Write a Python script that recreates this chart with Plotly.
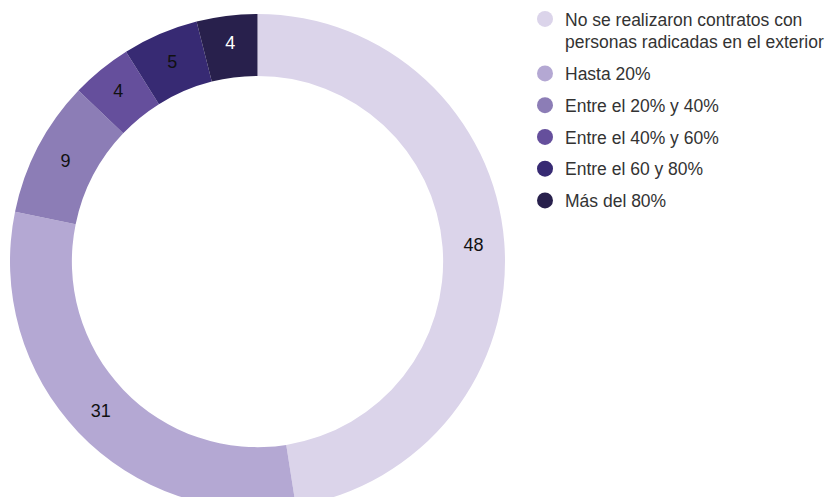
import plotly.graph_objects as go

categories = [
    "No se realizaron contratos con<br>personas radicadas en el exterior",
    "Hasta 20%",
    "Entre el 20% y 40%",
    "Entre el 40% y 60%",
    "Entre el 60 y 80%",
    "Más del 80%",
]
values = [48, 31, 9, 4, 5, 4]
colors = ["#dbd4ea", "#b4a8d3", "#8c7db6", "#654f9c", "#372a73", "#28204c"]
text_colors = ["#111111", "#111111", "#111111", "#111111", "#111111", "#ffffff"]

# figure is slightly larger than the 830x497 viewport; the overflow is blank / clipped
W, H = 850, 512

fig = go.Figure()
fig.add_trace(go.Pie(
    labels=categories,
    values=values,
    marker=dict(colors=colors, line=dict(width=0)),
    hole=0.75,
    sort=False,
    direction="clockwise",
    rotation=0,
    textinfo="value",
    textposition="inside",
    insidetextorientation="horizontal",
    textfont=dict(family="Liberation Sans, Arial, sans-serif", size=18, color=text_colors),
    showlegend=False,
    domain=dict(x=[10 / W, 505 / W], y=[1 - 509 / H, 1 - 14 / H]),
))

for i, (name, col) in enumerate(zip(categories, colors)):
    fig.add_trace(go.Scatter(
        x=[None], y=[None], mode="markers", name=name,
        marker=dict(symbol="circle", size=16, color=col),
        legendgroup=str(i), showlegend=True, hoverinfo="skip",
    ))

fig.update_layout(
    width=W, height=H, autosize=False,
    margin=dict(l=0, r=0, t=0, b=0),
    paper_bgcolor="white", plot_bgcolor="white",
    xaxis=dict(visible=False), yaxis=dict(visible=False),
    legend=dict(
        x=525 / W, y=1 - 1 / H, xanchor="left", yanchor="top",
        font=dict(family="Liberation Sans, Arial, sans-serif", size=17.5, color="#333333"),
        tracegroupgap=6, itemsizing="trace", valign="top",
        bgcolor="rgba(0,0,0,0)",
    ),
)

fig.write_html(
    "out.html",
    config={"displayModeBar": False},
    post_script="document.body.style.margin='0';document.body.style.overflow='hidden';document.documentElement.style.overflow='hidden';",
)
